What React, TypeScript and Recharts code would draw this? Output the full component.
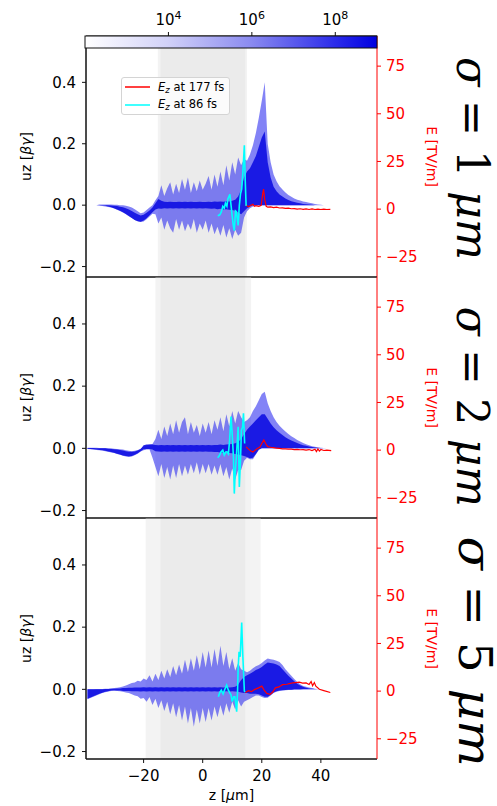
import React from 'react';
import { ComposedChart, Area, Line, XAxis, YAxis, ReferenceArea, ReferenceLine, Legend } from 'recharts';

// shared z grid (µm) for the particle envelopes
const zGrid = [
  -39, -38, -37, -36, -35, -34, -33, -32, -31, -30,
  -29, -28, -27, -26, -25, -24, -23, -22, -21, -20,
  -19, -18, -17, -16, -15, -14, -13, -12, -11, -10,
  -9, -8, -7, -6, -5, -4, -3, -2, -1, 0,
  1, 2, 3, 4, 5, 6, 7, 8, 9, 10,
  11, 12, 13, 14, 15, 16, 17, 18, 19, 20,
  21, 22, 23, 24, 25, 26, 27, 28, 29, 30,
  31, 32, 33, 34, 35, 36, 37, 38, 39, 40,
  41, 42, 43,
];

const zTicks = [-20, 0, 20, 40];
const uzTicks = [-0.2, 0, 0.2, 0.4];
const eTicks = [-25, 0, 25, 50, 75];
const cbTicks = [4, 6, 8];
const cbRange = [2, 9];

// sigma = 1 um
const p1OuterHi = [
  0, 0, 0, 0, 0.002, 0.002, 0.002, 0.002, 0.002, 0.001,
  0.001, 0, 0, -0.002, -0.004, -0.008, -0.013, -0.02, -0.026, -0.024,
  -0.016, -0.008, 0, 0.016, 0.03, 0.065, 0.03, 0.055, 0.075, 0.035,
  0.07, 0.04, 0.085, 0.05, 0.09, 0.04, 0.075, 0.045, 0.08, 0.05,
  0.07, 0.095, 0.05, 0.1, 0.06, 0.11, 0.065, 0.13, 0.08, 0.14,
  0.1, 0.155, 0.13, 0.15, 0.145, 0.165, 0.195, 0.235, 0.285, 0.34,
  0.4, 0.2, 0.14, 0.1, 0.078, 0.062, 0.051, 0.041, 0.033, 0.027,
  0.022, 0.018, 0.015, 0.012, 0.01, 0.008, 0.006, 0.004, 0.002, 0.001,
  0, 0, 0,
];
const p1OuterLo = [
  0, 0, 0, 0, -0.002, -0.003, -0.004, -0.006, -0.008, -0.011,
  -0.015, -0.019, -0.024, -0.03, -0.036, -0.042, -0.048, -0.052, -0.055, -0.053,
  -0.046, -0.037, -0.028, -0.03, -0.06, -0.04, -0.08, -0.05, -0.075, -0.09,
  -0.045, -0.08, -0.05, -0.085, -0.06, -0.08, -0.045, -0.09, -0.06, -0.08,
  -0.05, -0.09, -0.06, -0.095, -0.07, -0.1, -0.065, -0.105, -0.075, -0.11,
  -0.08, -0.1, -0.09, -0.04, -0.02, -0.01, -0.004, -0.002, 0, 0,
  0, 0, 0, 0, 0, 0, 0, 0, 0, 0,
  0, 0, 0, 0, 0, 0, 0, 0, 0, 0,
  0, 0, 0,
];
const p1InnerHi = [
  0, 0, 0, 0, 0, 0, 0, 0, -0.001, -0.002,
  -0.003, -0.005, -0.007, -0.01, -0.014, -0.019, -0.025, -0.03, -0.034, -0.031,
  -0.025, -0.017, -0.008, 0.006, 0.02, 0.014, 0.011, 0.01, 0.011, 0.01,
  0.01, 0.011, 0.01, 0.011, 0.01, 0.011, 0.01, 0.01, 0.011, 0.01,
  0.01, 0.011, 0.01, 0.012, 0.011, 0.012, 0.011, 0.013, 0.012, 0.014,
  0.018, 0.028, 0.05, 0.09, 0.11, 0.12, 0.14, 0.16, 0.19, 0.22,
  0.24, 0.14, 0.09, 0.06, 0.045, 0.035, 0.028, 0.022, 0.017, 0.013,
  0.01, 0.008, 0.006, 0.004, 0.003, 0.002, 0.001, 0, 0, 0,
  0, 0, 0,
];
const p1InnerLo = [
  0, 0, 0, 0, 0, -0.001, -0.002, -0.004, -0.007, -0.01,
  -0.014, -0.018, -0.023, -0.029, -0.035, -0.042, -0.048, -0.052, -0.054, -0.05,
  -0.043, -0.033, -0.023, -0.014, -0.011, -0.012, -0.01, -0.011, -0.01, -0.011,
  -0.01, -0.011, -0.01, -0.011, -0.01, -0.011, -0.01, -0.011, -0.01, -0.011,
  -0.01, -0.011, -0.012, -0.011, -0.013, -0.012, -0.014, -0.013, -0.015, -0.016,
  -0.018, -0.024, -0.03, -0.02, -0.01, -0.004, 0, 0, 0, 0,
  0, 0, 0, 0, 0, 0, 0, 0, 0, 0,
  0, 0, 0, 0, 0, 0, 0, 0, 0, 0,
  0, 0, 0,
];
const p1RedZ = [14.4, 15, 15.5, 16, 17, 17.5, 18, 19, 19.8, 20.3, 20.6, 21, 21.5, 22, 23, 24, 25, 26, 27, 28, 29, 30, 31, 32, 33, 34, 35, 36, 37, 38, 39, 40, 41, 42, 43.2];
const p1RedE = [2.5, 1.8, 1.2, 1.8, 2.5, 1.5, 1.8, 1.5, 2, 8, 10.5, 5, 1.5, 1, 1.2, 0.8, 1, 0.6, 0.7, 0.4, 0.5, 0.2, 0.3, 0, 0.2, -0.1, 0.1, -0.2, 0.1, -0.2, 0, -0.2, 0, -0.2, -0.1];
const p1CyanZ = [5.1, 5.8, 6.3, 6.8, 7.3, 7.7, 8.2, 8.5, 9.2, 9.6, 10, 10.4, 10.7, 11.1, 11.4, 12, 12.4, 12.8, 13.2, 13.6, 14.1, 14.4, 14.7];
const p1CyanE = [-3.5, -3, -1.5, 1.5, 0.5, 3.1, 1.5, 5.2, 7.8, 2, -4, -9, -11.3, -0.9, -1.3, -8.5, 2, 8, 10.5, 19.4, 33.5, 15, 1.7];

// sigma = 2 um
const p2OuterHi = [
  0.002, 0.002, 0.002, 0.002, 0.001, 0.001, 0.001, 0, 0, -0.001,
  -0.002, -0.003, -0.004, -0.006, -0.008, -0.009, -0.008, -0.005, -0.001, 0.006,
  0.01, 0.012, 0.014, 0.03, 0.06, 0.03, 0.07, 0.04, 0.08, 0.045,
  0.09, 0.05, 0.085, 0.1, 0.045, 0.085, 0.05, 0.075, 0.04, 0.08,
  0.05, 0.085, 0.045, 0.09, 0.06, 0.1, 0.055, 0.11, 0.07, 0.12,
  0.08, 0.12, 0.1, 0.085, 0.09, 0.1, 0.12, 0.135, 0.155, 0.175,
  0.182, 0.145, 0.12, 0.1, 0.085, 0.073, 0.063, 0.054, 0.046, 0.039,
  0.033, 0.027, 0.022, 0.017, 0.013, 0.01, 0.007, 0.005, 0.003, 0.002,
  0.001, 0, 0,
];
const p2OuterLo = [
  -0.002, -0.003, -0.004, -0.005, -0.006, -0.007, -0.009, -0.011, -0.013, -0.015,
  -0.018, -0.021, -0.024, -0.026, -0.027, -0.026, -0.022, -0.017, -0.01, -0.006,
  -0.004, -0.004, -0.03, -0.06, -0.09, -0.05, -0.095, -0.06, -0.1, -0.055,
  -0.095, -0.05, -0.09, -0.055, -0.085, -0.05, -0.08, -0.045, -0.085, -0.05,
  -0.08, -0.05, -0.085, -0.055, -0.085, -0.05, -0.09, -0.06, -0.1, -0.065,
  -0.1, -0.07, -0.07, -0.04, -0.03, -0.035, -0.035, -0.02, -0.005, 0,
  0, 0, 0, 0, 0, 0, 0, 0, 0, 0,
  0, 0, 0, 0, 0, 0, 0, 0, 0, 0,
  0, 0, 0,
];
const p2InnerHi = [
  0.001, 0.001, 0.001, 0, 0, 0, 0, -0.001, -0.002, -0.003,
  -0.004, -0.005, -0.007, -0.009, -0.011, -0.011, -0.01, -0.007, -0.002, 0.01,
  0.012, 0.012, 0.012, 0.011, 0.01, 0.011, 0.01, 0.011, 0.01, 0.011,
  0.01, 0.011, 0.01, 0.011, 0.01, 0.011, 0.01, 0.011, 0.01, 0.011,
  0.01, 0.011, 0.01, 0.011, 0.011, 0.012, 0.011, 0.012, 0.013, 0.014,
  0.016, 0.02, 0.03, 0.045, 0.06, 0.07, 0.08, 0.09, 0.1, 0.11,
  0.11, 0.095, 0.08, 0.068, 0.058, 0.05, 0.043, 0.036, 0.03, 0.025,
  0.021, 0.017, 0.013, 0.01, 0.008, 0.006, 0.004, 0.003, 0.002, 0.001,
  0, 0, 0,
];
const p2InnerLo = [
  -0.001, -0.002, -0.003, -0.004, -0.005, -0.006, -0.008, -0.01, -0.012, -0.014,
  -0.017, -0.02, -0.023, -0.025, -0.026, -0.025, -0.021, -0.016, -0.009, -0.003,
  -0.002, -0.002, -0.004, -0.009, -0.01, -0.011, -0.01, -0.011, -0.01, -0.011,
  -0.01, -0.011, -0.01, -0.011, -0.01, -0.011, -0.01, -0.011, -0.01, -0.011,
  -0.01, -0.011, -0.011, -0.012, -0.012, -0.013, -0.013, -0.014, -0.015, -0.016,
  -0.018, -0.02, -0.022, -0.025, -0.028, -0.032, -0.03, -0.018, -0.004, 0,
  0, 0, 0, 0, 0, 0, 0, 0, 0, 0,
  0, 0, 0, 0, 0, 0, 0, 0, 0, 0,
  0, 0, 0,
];
const p2RedZ = [14.7, 15.5, 16.3, 17, 17.8, 18.5, 19.3, 20, 20.7, 21.3, 22, 23, 24, 25, 26, 27, 28, 29, 30, 31, 32, 33, 34, 35, 36, 37, 38, 38.5, 39, 39.5, 40, 41, 42, 43.5];
const p2RedE = [1.7, 0.5, -0.5, -1, 0, 0.8, 1.5, 3.5, 5.3, 3.5, 1.8, 1.5, 1.3, 1, 0.9, 0.7, 0.7, 0.5, 0.5, 0.3, 0.4, 0.2, 0.3, 0, 0.3, -0.2, 0.5, -0.8, 0.6, -0.5, 0.3, -0.2, 0, -0.3];
const p2CyanZ = [5.1, 5.6, 6.2, 6.8, 7.3, 7.8, 8.2, 8.7, 9.1, 9.6, 10, 10.4, 10.7, 11, 11.4, 12, 12.4, 12.8, 13.1, 13.5, 13.8, 14.2];
const p2CyanE = [-4, -3, -1, 0, -2.6, -1, -0.9, -2, 5, 17.6, 8, -3.5, -22.8, -12, -3.5, 12.3, -19.3, -5, 10.5, 12, 19.3, 3.5];

// sigma = 5 um
const p3OuterHi = [
  0, 0, 0, 0.001, 0.001, 0.001, 0.002, 0.002, 0.003, 0.004,
  0.005, 0.007, 0.009, 0.012, 0.016, 0.02, 0.022, 0.028, 0.025, 0.035,
  0.03, 0.045, 0.025, 0.05, 0.03, 0.06, 0.035, 0.065, 0.04, 0.075,
  0.045, 0.08, 0.05, 0.095, 0.055, 0.1, 0.06, 0.11, 0.065, 0.12,
  0.07, 0.125, 0.07, 0.13, 0.075, 0.14, 0.075, 0.12, 0.065, 0.1,
  0.06, 0.085, 0.065, 0.06, 0.055, 0.06, 0.068, 0.074, 0.078, 0.085,
  0.093, 0.099, 0.097, 0.095, 0.092, 0.088, 0.078, 0.065, 0.054, 0.044,
  0.033, 0.024, 0.016, 0.011, 0.008, 0.006, 0.004, 0.002, 0.001, 0,
  0, 0, 0,
];
const p3OuterLo = [
  -0.032, -0.028, -0.024, -0.02, -0.016, -0.012, -0.009, -0.007, -0.005, -0.004,
  -0.005, -0.006, -0.008, -0.01, -0.012, -0.016, -0.02, -0.022, -0.03, -0.028,
  -0.04, -0.025, -0.05, -0.03, -0.06, -0.035, -0.07, -0.04, -0.08, -0.045,
  -0.09, -0.05, -0.1, -0.055, -0.11, -0.06, -0.12, -0.065, -0.11, -0.06,
  -0.105, -0.06, -0.1, -0.055, -0.09, -0.05, -0.085, -0.045, -0.075, -0.04,
  -0.065, -0.035, -0.055, -0.04, -0.035, -0.03, -0.025, -0.02, -0.02, -0.025,
  -0.028, -0.027, -0.02, -0.012, -0.008, -0.005, -0.004, -0.003, -0.002, -0.002,
  -0.001, -0.001, -0.001, 0, 0, 0, 0, 0, 0, 0,
  0, 0, 0,
];
const p3InnerHi = [
  0, 0, 0, 0, 0, 0, 0.001, 0.001, 0.002, 0.002,
  0.003, 0.003, 0.004, 0.004, 0.005, 0.005, 0.006, 0.006, 0.006, 0.007,
  0.006, 0.007, 0.006, 0.007, 0.006, 0.007, 0.006, 0.007, 0.006, 0.007,
  0.006, 0.007, 0.006, 0.007, 0.006, 0.007, 0.006, 0.007, 0.006, 0.007,
  0.006, 0.007, 0.006, 0.007, 0.006, 0.007, 0.006, 0.007, 0.006, 0.007,
  0.008, 0.015, 0.03, 0.04, 0.045, 0.05, 0.056, 0.062, 0.066, 0.072,
  0.08, 0.086, 0.085, 0.083, 0.08, 0.075, 0.065, 0.054, 0.044, 0.035,
  0.026, 0.018, 0.012, 0.008, 0.005, 0.003, 0.002, 0.001, 0, 0,
  0, 0, 0,
];
const p3InnerLo = [
  -0.03, -0.026, -0.022, -0.018, -0.014, -0.011, -0.008, -0.006, -0.004, -0.004,
  -0.004, -0.004, -0.005, -0.005, -0.005, -0.006, -0.006, -0.006, -0.007, -0.006,
  -0.007, -0.006, -0.007, -0.006, -0.007, -0.006, -0.007, -0.006, -0.007, -0.006,
  -0.007, -0.006, -0.007, -0.006, -0.007, -0.006, -0.007, -0.006, -0.007, -0.006,
  -0.007, -0.006, -0.007, -0.006, -0.007, -0.006, -0.007, -0.006, -0.007, -0.006,
  -0.007, -0.008, -0.01, -0.012, -0.012, -0.014, -0.014, -0.014, -0.016, -0.02,
  -0.024, -0.024, -0.018, -0.01, -0.006, -0.004, -0.003, -0.002, -0.001, -0.001,
  0, 0, 0, 0, 0, 0, 0, 0, 0, 0,
  0, 0, 0,
];
const p3RedZ = [14.4, 15.5, 16.5, 17.5, 18.9, 20, 20.8, 21.7, 22.8, 23.7, 24.6, 25.8, 27, 28.5, 30.4, 31.5, 32.7, 33.8, 35, 36, 36.7, 37.2, 37.8, 38.3, 39.5, 41, 43.2];
const p3RedE = [-0.7, 0.2, -0.3, 0.8, 1.7, 2.6, 0.5, -1.2, -1.7, -0.5, 1.7, 2.2, 3.4, 3.6, 4.3, 4.5, 4.7, 4.2, 4.3, 3.5, 5, 2.8, 4.5, 2.6, 1, 0.3, -0.7];
const p3CyanZ = [5.3, 5.8, 6.3, 6.9, 7.5, 8.1, 8.7, 9.2, 9.6, 10, 10.5, 10.9, 11.5, 11.8, 12, 12.3, 12.7, 13.2, 13.6, 14.1, 14.3];
const p3CyanE = [-3, -0.7, 0.5, -1.5, 1, 3.1, 0.5, -1, -2, -5.5, -3, -3, -10.8, 0, 12, 20.6, 18, 36, 18, 0, -0.5];

// grey shaded z ranges
const innerBand = [-14.3, 14.4];
const outerBands = [[-15.2, 15.0], [-16, 16.4], [-19.3, 19.6]];
const sigmas = ['1', '2', '5'];

const Z_DOMAIN = [-39.5, 59];
const E_DOMAIN = [-35.6, 90.8];
const PLOT_H = 241;
const PAD = 10; // chart margin above/below each plot
const X_AXIS_H = 37;
const FONT = '"DejaVu Sans", sans-serif';
const SPINE = '#111';

const minus = (s: string) => s.replace('-', '\u2212');

const band = (lo: number[], hi: number[]) => zGrid.map((z, i) => ({ z, r: [lo[i], hi[i]] }));
const line = (zs: number[], es: number[]) => zs.map((z, i) => ({ z, e: es[i] }));

const panels = [
  {
    top: 36, yDomain: [-0.234, 0.551],
    outer: band(p1OuterLo, p1OuterHi), inner: band(p1InnerLo, p1InnerHi),
    red: line(p1RedZ, p1RedE), cyan: line(p1CyanZ, p1CyanE),
    sigmaX: 457, sigmaY: 122.5, sigmaSize: 44, sigmaLen: 203,
  },
  {
    top: 277, yDomain: [-0.224, 0.551],
    outer: band(p2OuterLo, p2OuterHi), inner: band(p2InnerLo, p2InnerHi),
    red: line(p2RedZ, p2RedE), cyan: line(p2CyanZ, p2CyanE),
    sigmaX: 457, sigmaY: 129.7, sigmaSize: 44, sigmaLen: 200,
  },
  {
    top: 518, yDomain: [-0.224, 0.551],
    outer: band(p3OuterLo, p3OuterHi), inner: band(p3InnerLo, p3InnerHi),
    red: line(p3RedZ, p3RedE), cyan: line(p3CyanZ, p3CyanE),
    sigmaX: 459, sigmaY: 133.5, sigmaSize: 47, sigmaLen: 230,
  },
];

const LeftLabel = () => {
  const cy = PAD + PLOT_H / 2;
  return (
    <text x={31} y={cy} transform={`rotate(-90 31 ${cy})`} textAnchor="middle" fontSize={14} fill="#000">
      uz [<tspan fontStyle="italic">βγ</tspan>]
    </text>
  );
};

const RightLabel = ({ sigma, sx, sy, size, len }: any) => {
  const cy = PAD + PLOT_H / 2;
  const y = sy + PAD;
  return (
    <g>
      <text x={427} y={cy} transform={`rotate(90 427 ${cy})`} textAnchor="middle" fontSize={14} fill="#ff0000">
        E [TV/m]
      </text>
      <text
        x={sx}
        y={y}
        transform={`rotate(90 ${sx} ${y})`}
        textAnchor="middle"
        fontSize={size}
        fontFamily='"DejaVu Serif", serif'
        fill="#000"
        textLength={len}
        lengthAdjust="spacingAndGlyphs"
      >
        <tspan fontStyle="italic">σ</tspan> = {sigma} <tspan fontStyle="italic">μm</tspan>
      </text>
    </g>
  );
};

const BottomLabel = () => (
  <text x={231.5} y={PAD + PLOT_H + 41} textAnchor="middle" fontSize={14} fill="#000">
    z [<tspan fontStyle="italic">μ</tspan>m]
  </text>
);

const LegendBox = ({ payload }: any) => {
  const items = (payload || []).filter((p: any) => p.type !== 'none');
  return (
    <div
      style={{
        position: 'relative', width: 109, height: 38, boxSizing: 'border-box',
        border: '1px solid #d4d4d4', borderRadius: 3, background: 'rgba(255,255,255,0.8)',
        fontSize: 11.5, fontFamily: FONT, color: '#000',
      }}
    >
      {items.map((it: any, i: number) => (
        <div key={i} style={{ position: 'absolute', left: 3, top: 1.2 + i * 17.6, height: 16, display: 'flex', alignItems: 'center', whiteSpace: 'nowrap' }}>
          <svg width={25} height={16}>
            <line x1={0} x2={25} y1={8} y2={8} stroke={it.color} strokeWidth={1.5} />
          </svg>
          <span style={{ marginLeft: 8 }}>
            <i>E</i><sub style={{ fontSize: 8.5, fontStyle: 'italic', verticalAlign: -2 }}>z</sub> at {it.value}
          </span>
        </div>
      ))}
    </div>
  );
};

function Panel({ cfg, index }: any) {
  const last = index === 2;
  const h = PAD + PLOT_H + (last ? X_AXIS_H : 0) + PAD;
  const black = { stroke: SPINE, strokeWidth: 1 };
  return (
    <div style={{ position: 'absolute', left: 0, top: cfg.top - PAD }}>
      <ComposedChart width={497} height={h} margin={{ top: PAD, right: 0, bottom: PAD, left: 0 }}>
        <ReferenceArea yAxisId="l" x1={outerBands[index][0]} x2={outerBands[index][1]} fill="#f3f3f3" fillOpacity={1} stroke="none" />
        <ReferenceArea yAxisId="l" x1={innerBand[0]} x2={innerBand[1]} fill="#ebebeb" fillOpacity={1} stroke="none" />
        <Area
          yAxisId="l"
          data={cfg.outer}
          dataKey="r"
          type="linear"
          stroke="none"
          fill="#2a2af0"
          fillOpacity={0.58}
          isAnimationActive={false}
          activeDot={false}
          legendType="none"
        />
        <Area
          yAxisId="l"
          data={cfg.inner}
          dataKey="r"
          type="linear"
          stroke="none"
          fill="#0808e0"
          fillOpacity={0.85}
          isAnimationActive={false}
          activeDot={false}
          legendType="none"
        />
        <Line yAxisId="r" data={cfg.red} dataKey="e" name="177 fs" stroke="#ff0000" strokeWidth={1.2} dot={false} activeDot={false} isAnimationActive={false} />
        <Line yAxisId="r" data={cfg.cyan} dataKey="e" name="86 fs" stroke="#00ffff" strokeWidth={1.6} dot={false} activeDot={false} isAnimationActive={false} />
        <ReferenceLine yAxisId="l" y={cfg.yDomain[1]} stroke={SPINE} strokeWidth={1} />
        <ReferenceLine yAxisId="l" y={cfg.yDomain[0]} stroke={SPINE} strokeWidth={1} />
        <ReferenceLine yAxisId="l" x={Z_DOMAIN[0]} stroke={SPINE} strokeWidth={1} />
        <XAxis
          type="number"
          dataKey="z"
          domain={Z_DOMAIN}
          allowDataOverflow
          ticks={zTicks}
          interval={0}
          hide={!last}
          height={X_AXIS_H}
          axisLine={black}
          tickLine={black}
          tick={{ fill: '#000', fontSize: 15 }}
          tickSize={4}
          tickMargin={7}
          tickFormatter={(v: number) => minus(String(v))}
          label={last ? <BottomLabel /> : undefined}
        />
        <YAxis
          yAxisId="l"
          type="number"
          domain={cfg.yDomain}
          allowDataOverflow
          ticks={uzTicks}
          interval={0}
          width={86}
          axisLine={black}
          tickLine={black}
          tick={{ fill: '#000', fontSize: 15 }}
          tickSize={4}
          tickMargin={6}
          tickFormatter={(v: number) => minus(v.toFixed(1))}
          label={<LeftLabel />}
        />
        <YAxis
          yAxisId="r"
          orientation="right"
          type="number"
          domain={E_DOMAIN}
          allowDataOverflow
          ticks={eTicks}
          interval={0}
          width={120}
          axisLine={{ stroke: '#ff0000', strokeWidth: 1 }}
          tickLine={{ stroke: '#ff0000', strokeWidth: 1 }}
          tick={{ fill: '#ff0000', fontSize: 15 }}
          tickSize={4}
          tickMargin={5}
          tickFormatter={(v: number) => minus(String(v))}
          label={<RightLabel sigma={sigmas[index]} sx={cfg.sigmaX} sy={cfg.sigmaY} size={cfg.sigmaSize} len={cfg.sigmaLen} />}
        />
        {index === 0 && (
          <Legend
            layout="vertical"
            align="center"
            verticalAlign="middle"
            content={<LegendBox />}
            wrapperStyle={{ left: 121, top: 77 - cfg.top + PAD, width: 109, height: 38 }}
          />
        )}
      </ComposedChart>
    </div>
  );
}

const CbShape = ({ x, y, width, height }: any) => (
  <g>
    <defs>
      <linearGradient id="cbGrad" x1="0" y1="0" x2="1" y2="0">
        <stop offset="0" stopColor="#ffffff" />
        <stop offset="0.28" stopColor="#d2d2f8" />
        <stop offset="0.57" stopColor="#8a8af0" />
        <stop offset="0.86" stopColor="#2a2aea" />
        <stop offset="1" stopColor="#0000e0" />
      </linearGradient>
    </defs>
    <rect x={x} y={y} width={width} height={height} fill="url(#cbGrad)" stroke={SPINE} strokeWidth={1} />
  </g>
);

const CbTick = ({ x, payload }: any) => (
  <g>
    <line x1={x} x2={x} y1={32} y2={36} stroke={SPINE} strokeWidth={1} />
    <text x={x} y={25} textAnchor="middle" fontSize={15} fill="#000">
      10<tspan dy={-6} fontSize={11}>{payload.value}</tspan>
    </text>
  </g>
);

export default function App() {
  const cbData = cbRange.map((e) => ({ e }));
  return (
    <div style={{ position: 'absolute', left: 0, top: 0, width: 497, height: 806, background: '#fff', fontFamily: FONT, overflow: 'hidden' }}>
      {panels.map((p, i) => (
        <Panel key={i} cfg={p} index={i} />
      ))}
      <div style={{ position: 'absolute', left: 0, top: 0 }}>
        <ComposedChart width={497} height={58} data={cbData} margin={{ top: 0, right: 120, bottom: 10, left: 85 }}>
          <ReferenceArea x1={cbRange[0]} x2={cbRange[1]} y1={0} y2={1} shape={<CbShape />} />
          <XAxis
            type="number"
            dataKey="e"
            orientation="top"
            domain={cbRange}
            allowDataOverflow
            ticks={cbTicks}
            interval={0}
            height={36}
            tickSize={4}
            tickLine={false}
            axisLine={false}
            tick={<CbTick />}
          />
          <YAxis hide type="number" domain={[0, 1]} allowDataOverflow />
        </ComposedChart>
      </div>
    </div>
  );
}
